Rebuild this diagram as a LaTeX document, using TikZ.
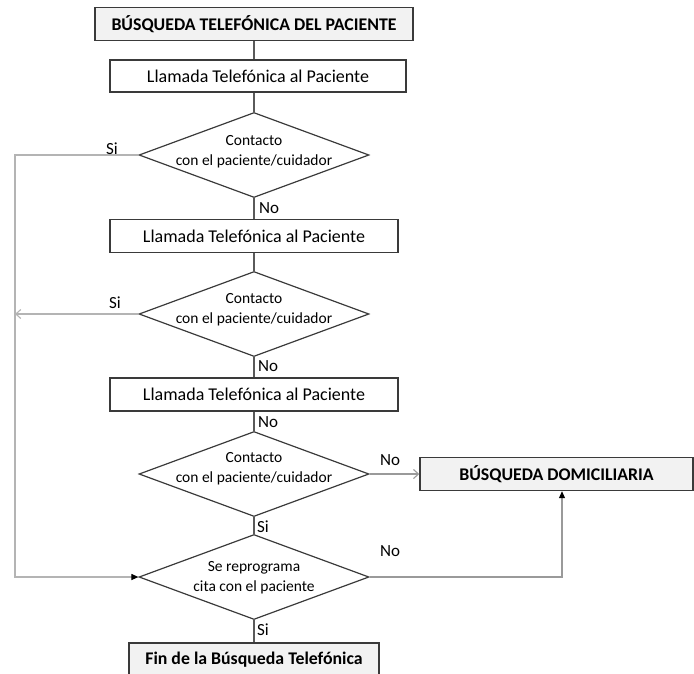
\documentclass[tikz,border=0pt]{standalone}
\usepackage{fontspec}
\setmainfont{Carlito}
\usetikzlibrary{shapes.geometric,arrows.meta}
\definecolor{boxline}{HTML}{3A3A3A}
\definecolor{titlefill}{HTML}{F2F2F2}
\definecolor{linkgray}{HTML}{5A5A5A}
\definecolor{loopgray}{HTML}{B4B4B4}
\definecolor{sidegray}{HTML}{9A9A9A}
\tikzset{
  box/.style={draw=boxline, line width=1.4pt, fill=white, minimum height=33pt,
    inner sep=0pt, font=\fontsize{18}{20}\selectfont},
  titlebox/.style={box, fill=titlefill, font=\bfseries\fontsize{17.8}{20}\selectfont},
  decision/.style={diamond, draw=boxline, line width=1.2pt, minimum width=230pt,
    minimum height=85pt, inner sep=0pt},
  dtext/.style={align=center, font=\fontsize{15.5}{20}\selectfont, inner sep=0pt},
  lbl/.style={font=\fontsize{17}{20}\selectfont, inner sep=0pt},
  link/.style={draw=linkgray, line width=1.1pt},
  loopline/.style={draw=loopgray, line width=1.1pt},
  sideline/.style={draw=sidegray, line width=1.1pt},
  openhead/.style={-{Straight Barb[length=5pt,width=9pt]}},
  solidhead/.style={-{Triangle[length=7pt,width=6pt,color=black]}},
}
\begin{document}
\begin{tikzpicture}[x=1pt,y=-1pt]
\useasboundingbox (0,0) rectangle (694,673);
\clip (0,0) rectangle (694,673);

% process boxes
\node[titlebox, minimum width=318pt] (start) at (254,24) {BÚSQUEDA TELEFÓNICA DEL PACIENTE};
\node[box, minimum width=296pt, minimum height=32pt] (call1) at (258,76) {Llamada Telefónica al Paciente};
\node[box, minimum width=288pt] (call2) at (254,236) {Llamada Telefónica al Paciente};
\node[box, minimum width=288pt] (call3) at (254,394.5) {Llamada Telefónica al Paciente};
\node[titlebox, minimum width=273pt] (home) at (556.5,474) {BÚSQUEDA DOMICILIARIA};
\node[titlebox, minimum width=250pt, minimum height=34pt] (fin) at (254,660) {Fin de la Búsqueda Telefónica};

% decisions
\node[decision] (d1) at (254,155) {};
\node[dtext] (d1t) at (254,152) {Contacto\\con el paciente/cuidador};
\node[decision] (d2) at (254,314) {};
\node[dtext] (d2t) at (254,310) {Contacto\\con el paciente/cuidador};
\node[decision] (d3) at (254,474) {};
\node[dtext] (d3t) at (254,469) {Contacto\\con el paciente/cuidador};
\node[decision] (d4) at (254,577) {};
\node[dtext] (d4t) at (254,578) {Se reprograma\\cita con el paciente};

% main vertical flow
\draw[link] (start.south) -- (start.south |- call1.north);
\draw[link] (d1.north |- call1.south) -- (d1.north);
\draw[link] (d1.south) -- (call2.north);
\draw[link] (call2.south) -- (d2.north);
\draw[link] (d2.south) -- (call3.north);
\draw[link] (call3.south) -- (d3.north);
\draw[link] (d3.south) -- (d4.north);
\draw[link] (d4.south) -- (fin.north);

% return loop on the left
\coordinate (loopx) at (15,0);
\draw[loopline, solidhead] (d1.west) -- (d1.west -| loopx) |- (d4.west);
\draw[loopline, openhead] (d2.west) -- (d2.west -| loopx);

% branches to home search
\draw[sideline, openhead] (d3.east) -- (home.west);
\coordinate (upx) at (562,0);
\draw[sideline, solidhead] (d4.east) -- (d4.east -| upx) -- (upx |- home.south);

% branch labels
\node[lbl] (s1) at (112,149) {Si};
\node[lbl] (n1) at (269,208) {No};
\node[lbl] (s2) at (115,303) {Si};
\node[lbl] (n2) at (268,366) {No};
\node[lbl] (n3) at (268,422) {No};
\node[lbl] (n4) at (390,460) {No};
\node[lbl] (s3) at (263,527) {Si};
\node[lbl] (n5) at (390,551) {No};
\node[lbl] (s4) at (263,630) {Si};
\end{tikzpicture}
\end{document}
